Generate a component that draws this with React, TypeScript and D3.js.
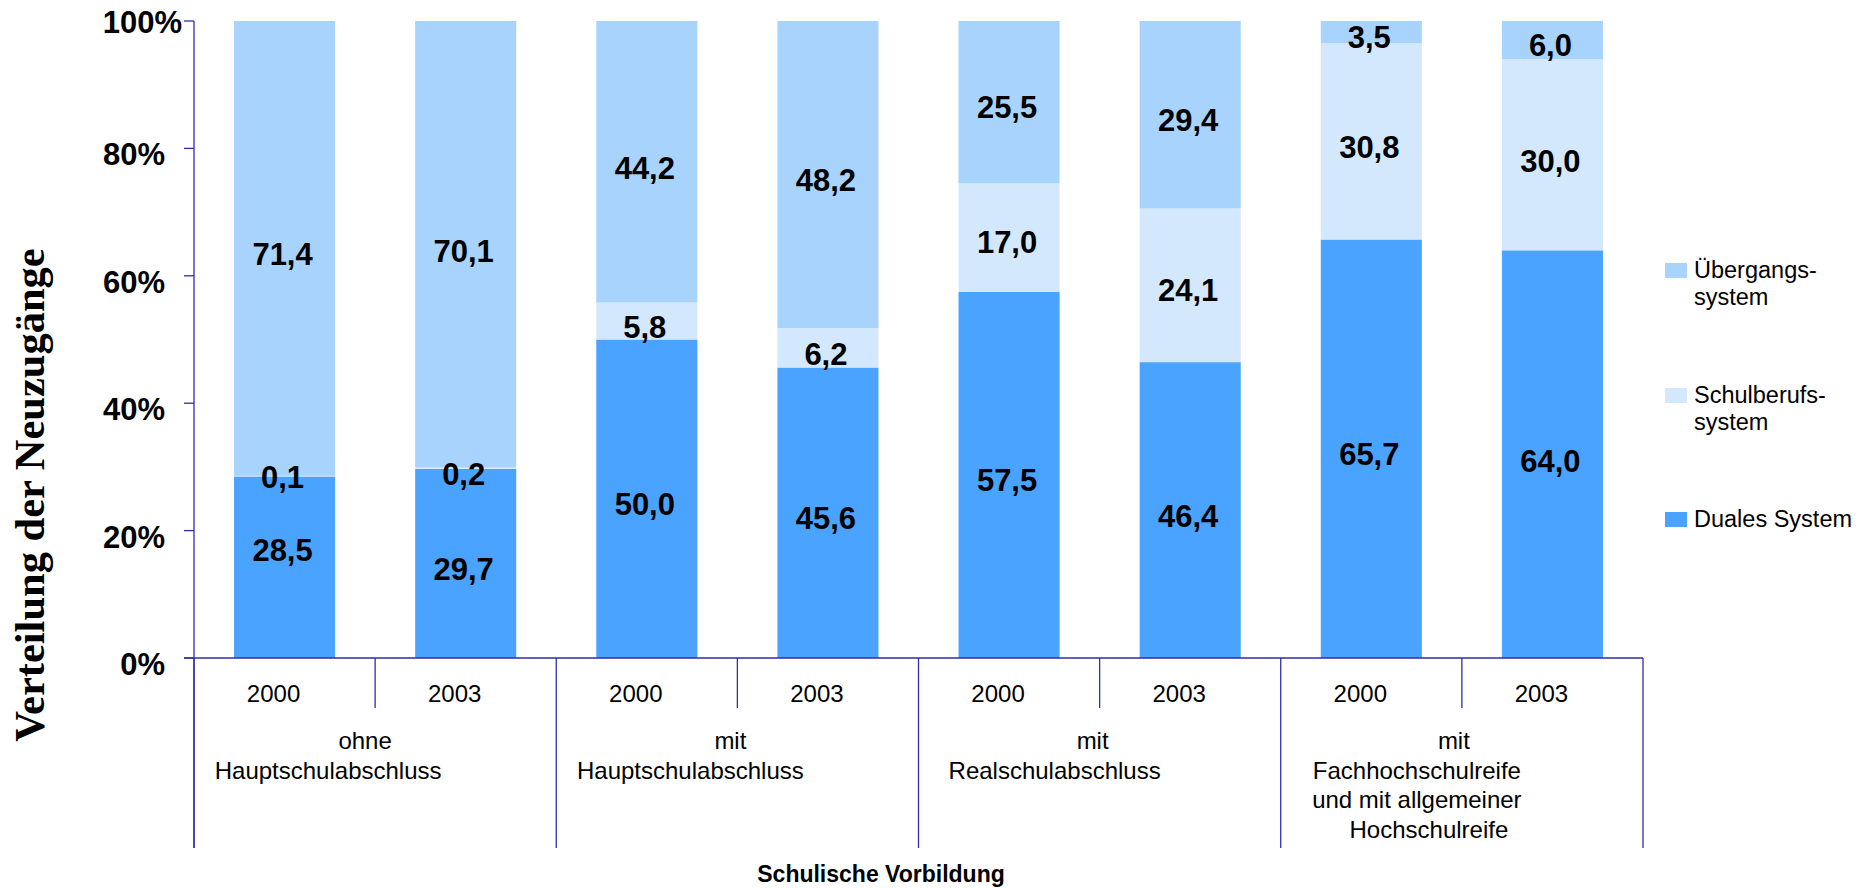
import React from "react";
import * as d3 from "d3";

// ---- Data ----
const years = ["2000", "2003"];
const groupLabels: string[][] = [
  ["ohne", "Hauptschulabschluss"],
  ["mit", "Hauptschulabschluss"],
  ["mit", "Realschulabschluss"],
  ["mit", "Fachhochschulreife", "und mit allgemeiner", "Hochschulreife"],
];
const duales = [28.5, 29.7, 50.0, 45.6, 57.5, 46.4, 65.7, 64.0];
const schulberufs = [0.1, 0.2, 5.8, 6.2, 17.0, 24.1, 30.8, 30.0];
const uebergangs = [71.4, 70.1, 44.2, 48.2, 25.5, 29.4, 3.5, 6.0];
const seriesNames = ["Duales System", "Schulberufssystem", "Übergangssystem"];
const legendLabels: string[][] = [
  ["Übergangs-", "system"],
  ["Schulberufs-", "system"],
  ["Duales System"],
];
const yTicks = [0, 0.2, 0.4, 0.6, 0.8, 1.0];

// ---- Layout / style ----
const W = 1870;
const H = 888;
const colors = ["#4aa3fe", "#d4e8fd", "#a8d3fc"];
const axisColor = "#2e2ea6";
const plotLeft = 194;
const plotRight = 1643;
const plotTop = 21;
const plotBottom = 658;
// label shifts (px) from segment centre, per series
const labelDy: number[][] = [
  [-17, 6, 5.5, 5.5, 5.5, 6, 5.5, 6.5],
  [1, 6, 6, 6, 5, 5, 6, 6],
  [6, 7, 6, 6, 5, 5, 5, 5.5],
];
const groupLineDx = [
  [-10, -47],
  [-7, -47],
  [-7, -45],
  [-8, -45, -45, -33],
];

const fmt = (v: number) => v.toFixed(1).replace(".", ",");

export default function App() {
  const n = duales.length;
  const idx = d3.range(n);
  const rows = idx.map((i) => ({
    i,
    [seriesNames[0]]: duales[i],
    [seriesNames[1]]: schulberufs[i],
    [seriesNames[2]]: uebergangs[i],
  }));
  const stack = d3
    .stack<any>()
    .keys(seriesNames)
    .offset(d3.stackOffsetExpand);
  const stacked = stack(rows);

  const x = d3
    .scaleBand<number>()
    .domain(idx)
    .range([plotLeft, plotRight])
    .paddingInner(0.442)
    .paddingOuter(0.221);
  const step = x.step();
  const y = d3.scaleLinear().domain([0, 1]).range([plotBottom, plotTop]);

  const values = [duales, schulberufs, uebergangs];

  const sans = "'Liberation Sans', Arial, sans-serif";

  return (
    <svg
      width={W}
      height={H}
      style={{ position: "absolute", left: 0, top: 0, background: "#fff" }}
      fontFamily={sans}
    >
      {/* bars */}
      {stacked.map((s, si) => (
        <g key={si} fill={colors[si]}>
          {s.map((d, i) => (
            <rect
              key={i}
              x={x(i)}
              width={x.bandwidth()}
              y={y(d[1])}
              height={Math.max(0, y(d[0]) - y(d[1]))}
            />
          ))}
        </g>
      ))}

      {/* data labels */}
      {stacked.map((s, si) =>
        s.map((d, i) => (
          <text
            key={`l${si}-${i}`}
            x={(x(i) as number) + x.bandwidth() / 2 - 2}
            y={(y(d[0]) + y(d[1])) / 2 + labelDy[si][i]}
            dy="0.35em"
            textAnchor="middle"
            fontSize={31}
            fontWeight="bold"
            fill="#000"
          >
            {fmt(values[si][i])}
          </text>
        ))
      )}

      {/* y axis */}
      <line x1={plotLeft} x2={plotLeft} y1={plotTop} y2={848} stroke={axisColor} strokeWidth={1.3} />
      {yTicks.map((t) => (
        <g key={t}>
          <line x1={plotLeft - 10} x2={plotLeft} y1={y(t)} y2={y(t)} stroke={axisColor} strokeWidth={1.3} />
          <text
            x={t === 1 ? 182 : 165}
            y={y(t) + (t === 1 ? 12 : 17)}
            textAnchor="end"
            fontSize={31}
            fontWeight="bold"
            fill="#000"
          >
            {d3.format(".0%")(t)}
          </text>
        </g>
      ))}

      {/* x axis */}
      <line x1={plotLeft - 10} x2={plotRight} y1={plotBottom} y2={plotBottom} stroke={axisColor} strokeWidth={1.3} />
      {d3.range(n + 1).map((k) => {
        const xx = plotLeft + k * step;
        const isGroup = k % 2 === 0;
        return (
          <line
            key={`sep${k}`}
            x1={xx}
            x2={xx}
            y1={plotBottom}
            y2={isGroup ? 848 : 708}
            stroke={axisColor}
            strokeWidth={1.3}
          />
        );
      })}
      {idx.map((i) => (
        <text
          key={`yr${i}`}
          x={(x(i) as number) + x.bandwidth() / 2 - 11}
          y={702}
          textAnchor="middle"
          fontSize={24}
          fill="#000"
        >
          {years[i % 2]}
        </text>
      ))}
      {groupLabels.map((lines, g) => {
        const cx = plotLeft + (g * 2 + 1) * step;
        return (
          <text key={`g${g}`} textAnchor="middle" fontSize={24} fill="#000">
            {lines.map((ln, li) => (
              <tspan key={li} x={cx + groupLineDx[g][li]} y={749 + li * 29.7}>
                {ln}
              </tspan>
            ))}
          </text>
        );
      })}

      {/* axis titles */}
      <text
        x={881}
        y={882}
        textAnchor="middle"
        fontSize={23}
        fontWeight="bold"
        fill="#000"
      >
        Schulische Vorbildung
      </text>
      <text
        transform="translate(44,495) rotate(-90)"
        textAnchor="middle"
        fontFamily="'Liberation Serif', 'Times New Roman', serif"
        fontSize={42.5}
        fontWeight="bold"
        fill="#000"
      >
        Verteilung der Neuzugänge
      </text>

      {/* legend */}
      {legendLabels.map((lines, li) => {
        const si = 2 - li;
        const baseY = [278, 403, 527][li];
        return (
          <g key={`lg${li}`}>
            <rect x={1665} y={baseY - 15} width={22} height={15} fill={colors[si]} />
            <text fontSize={23.5} fill="#000">
              {lines.map((ln, k) => (
                <tspan key={k} x={1694} y={baseY + k * 27}>
                  {ln}
                </tspan>
              ))}
            </text>
          </g>
        );
      })}
    </svg>
  );
}
